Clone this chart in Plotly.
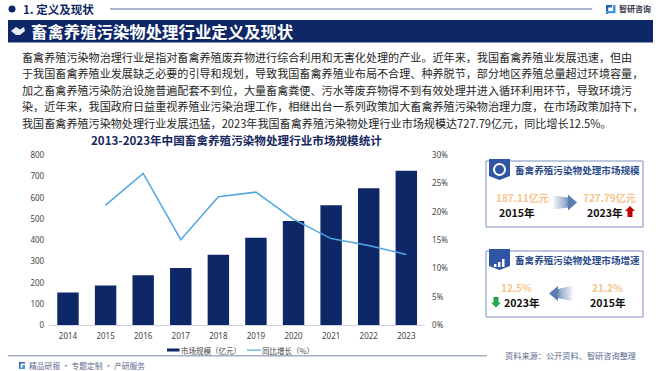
import plotly.graph_objects as go

W, H = 660, 371
years = ["2014","2015","2016","2017","2018","2019","2020","2021","2022","2023"]
market_size = [154,187.11,235,270,332,412,491,565,645,727.79]
growth = [None,21.2,26.8,15.1,22.7,23.5,18.7,15.3,14.1,12.5]
body_lines = [
 "畜禽养殖污染物治理行业是指对畜禽养殖废弃物进行综合利用和无害化处理的产业。近年来，我国畜禽养殖业发展迅速，但由",
 "于我国畜禽养殖业发展缺乏必要的引导和规划，导致我国畜禽养殖业布局不合理、种养脱节，部分地区养殖总量超过环境容量，",
 "加之畜禽养殖污染防治设施普遍配套不到位，大量畜禽粪便、污水等废弃物得不到有效处理并进入循环利用环节，导致环境污",
 "染，近年来，我国政府日益重视养殖业污染治理工作，相继出台一系列政策加大畜禽养殖污染物治理力度，在市场政策加持下，",
 "我国畜禽养殖污染物处理行业发展迅猛，2023年我国畜禽养殖污染物处理行业市场规模达727.79亿元，同比增长12.5%。",
]
CJK = "Noto Sans CJK SC"
NAVY = "#0e2766"

def X(p): return p / W
def Y(p): return 1 - p / H

shapes, ann = [], []
def text(x, y, s, size, color="#222222", bold=False, anchor="left"):
    ann.append(dict(xref="paper", yref="paper", x=X(x), y=Y(y), text=f"<b>{s}</b>" if bold else s,
                    showarrow=False, xanchor=anchor, yanchor="middle",
                    font=dict(size=size, color=color, family=CJK), borderpad=0, borderwidth=0))
def rect(x0, y0, x1, y1, fill=None, line=None, lw=1):
    shapes.append(dict(type="rect", xref="paper", yref="paper", x0=X(x0), x1=X(x1), y0=Y(y0), y1=Y(y1),
                       fillcolor=fill or "rgba(0,0,0,0)", line=dict(color=line or "rgba(0,0,0,0)", width=lw if line else 0)))
def poly(pts, fill, opacity=1):
    d = "M" + " L".join(f"{X(a):.5f},{Y(b):.5f}" for a, b in pts) + " Z"
    shapes.append(dict(type="path", xref="paper", yref="paper", path=d, fillcolor=fill, opacity=opacity, line=dict(width=0)))

# header
shapes.append(dict(type="circle", xref="paper", yref="paper", x0=X(8.5), x1=X(15.5), y0=Y(12.5), y1=Y(5.5), fillcolor=NAVY, line=dict(width=0)))
text(23, 9, "1. 定义及现状", 11.5, NAVY, True)
rect(110, 8, 592, 10, "#aab3cc")
rect(8, 20, 653, 42.5, NAVY)
poly([(11,31),(16,27),(20,29.5),(24,27),(25,31),(20,35),(16,35)], "#e8ecf5")
text(31, 30.5, "畜禽养殖污染物处理行业定义及现状", 16.4, "#ffffff", True)
# logo
rect(606, 5, 612, 7.5, "#2f5fb0"); rect(606, 5, 608.2, 14, "#2f5fb0")
rect(613, 5, 615.5, 11, "#3a9ad9"); rect(606, 11, 615.5, 13.2, "#3a9ad9")
text(619, 8, "智研咨询", 8, "#3a3a4a", True)

for i, (line, yy) in enumerate(zip(body_lines, [56.5, 73, 89.5, 106, 122.5])):
    text(22, yy, line, 11.1, "#262626")

text(236.5, 140, "2013-2023年中国畜禽养殖污染物处理行业市场规模统计", 11.6, "#17275f", True, "center")

# legend
rect(167, 348.5, 179.5, 351.5, NAVY)
text(181, 350, "市场规模（亿元）", 7.5, "#444444")
rect(247, 349.5, 261, 350.7, "#4fa8e0")
text(262, 350, "同比增长（%）", 7.5, "#444444")

# footer
rect(8, 355, 487, 356.5, "#a3adc8")
rect(19, 362, 25, 363.5, "#2f5fb0"); rect(19, 362, 20.5, 369, "#2f5fb0")
rect(22.5, 365, 25, 369, "#3a9ad9"); rect(19, 367.5, 25, 369, "#3a9ad9")
text(29, 365, "精品研报 · 专题定制 · 产研服务", 7.8, "#5a6a8c")
text(505, 355, "资料来源：公开资料、智研咨询整理", 8.2, "#5a6a8c")

# cards
BORDER = "#7a8fbb"
for y0, y1 in [(161, 227), (251, 317)]:
    rect(486, y0, 643, y1, "#ffffff", BORDER, 1)
    base = y0 - 2
    poly([(489,base),(510,base),(510,base+17),(499.5,base+21),(489,base+17)], "#2f55a4")
shapes.append(dict(type="circle", xref="paper", yref="paper", x0=X(494), x1=X(505), y0=Y(175), y1=Y(164), fillcolor="rgba(0,0,0,0)", line=dict(color="#ffffff", width=2)))
for bx, bh in [(494,3),(498,5),(502,8)]:
    rect(bx, 267-bh, bx+2.5, 267, "#ffffff")
text(515, 169.5, "畜禽养殖污染物处理市场规模", 9.6, "#2a4a8c", True)
text(515, 259.5, "畜禽养殖污染物处理市场增速", 9.6, "#2a4a8c", True)

ORANGE = "#f7c48a"
text(522, 197, "187.11亿元", 10, ORANGE, True, "center")
text(516.5, 212, "2015年", 10.6, "#111111", True, "center")
text(609, 197, "727.79亿元", 10, ORANGE, True, "center")
text(604.5, 212, "2023年", 10.6, "#111111", True, "center")
text(516.5, 287, "12.5%", 10, ORANGE, True, "center")
text(521.5, 302, "2023年", 10.6, "#111111", True, "center")
text(607, 287, "21.2%", 10, ORANGE, True, "center")
text(608, 302, "2015年", 10.6, "#111111", True, "center")

# gradient arrows, built from slices
def arrow(tail, neck, tip, cy, tail_h, body_h, head_h, n=14):
    for i in range(n):
        a = tail + (neck - tail) * i / n
        b = tail + (neck - tail) * (i + 1) / n
        ha = tail_h + (body_h - tail_h) * i / n
        hb = tail_h + (body_h - tail_h) * (i + 1) / n
        poly([(a, cy-ha), (b, cy-hb), (b, cy+hb), (a, cy+ha)], "#4a6fa8", 0.06 + 0.74 * (i / n))
    poly([(neck, cy-head_h), (tip, cy), (neck, cy+head_h)], "#4a6fa8", 0.9)
arrow(553, 568, 577, 202.5, 7, 5, 8)
arrow(573, 558, 549, 293.5, 8, 4.5, 7.5)
# up / down markers
poly([(630,206),(635,211),(632.5,211),(632.5,217),(627.5,217),(627.5,211),(625,211)], "#c00000")
poly([(496,307.5),(491,302.5),(493.5,302.5),(493.5,297),(498.5,297),(498.5,302.5),(501,302.5)], "#22a84a")

fig = go.Figure()
fig.add_bar(x=years, y=market_size, name="市场规模（亿元）", marker=dict(color=NAVY, line=dict(width=0)), width=0.57, yaxis="y")
fig.add_scatter(x=years, y=growth, name="同比增长（%）", mode="lines", line=dict(color="#4fa8e0", width=1.5), yaxis="y2", connectgaps=False)

tf = dict(size=8, color="#444444", family="Noto Sans, " + CJK)
fig.update_layout(
    width=W, height=H, margin=dict(l=0, r=0, t=0, b=0, autoexpand=False), autosize=False,
    paper_bgcolor="white", plot_bgcolor="rgba(0,0,0,0)", showlegend=False,
    xaxis=dict(domain=[X(49.2), X(425.1)], anchor="y", type="category", showgrid=False, tickfont=tf, ticks="",
               showline=True, linecolor="#d0d4dc", linewidth=1, ticklabelstandoff=3),
    yaxis=dict(domain=[1 - 325.3/H, 1 - 155.3/H], range=[0, 800], dtick=100, showgrid=False, zeroline=False, tickfont=tf,
               ticks="", ticklabelstandoff=4),
    yaxis2=dict(domain=[1 - 325.3/H, 1 - 155.3/H], overlaying="y", side="right", range=[0, 30], dtick=5, ticksuffix="%",
                showgrid=False, zeroline=False, tickfont=tf, ticks="", anchor="x", ticklabelstandoff=6),
    shapes=shapes, annotations=ann,
)
fig.write_html("out.html", config={"displayModeBar": False},
               post_script="document.body.style.margin='0';document.body.style.overflow='hidden';")
